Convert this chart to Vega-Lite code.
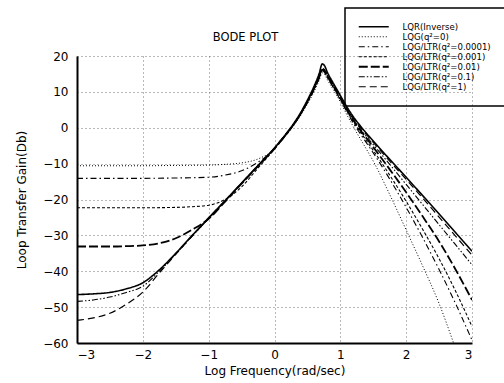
{
  "$schema": "https://vega.github.io/schema/vega-lite/v6.json",
  "width": 395,
  "height": 287,
  "autosize": "none",
  "padding": {"left": 77, "top": 56, "right": 32, "bottom": 40},
  "background": "white",
  "title": {"text": "BODE PLOT", "fontSize": 11.5, "fontWeight": "normal", "font": "DejaVu Sans", "color": "black", "anchor": "middle", "frame": "group", "baseline": "alphabetic", "offset": -45, "dx": -29},
  "datasets": {
    "curves": [
      {"s":"LQR(Inverse)","x":-3,"y":-46.5},{"s":"LQR(Inverse)","x":-2.75,"y":-46.3},{"s":"LQR(Inverse)","x":-2.5,"y":-45.9},{"s":"LQR(Inverse)","x":-2.25,"y":-44.9},{"s":"LQR(Inverse)","x":-2,"y":-43.2},{"s":"LQR(Inverse)","x":-1.75,"y":-39.6},{"s":"LQR(Inverse)","x":-1.5,"y":-35},{"s":"LQR(Inverse)","x":-1.25,"y":-30},{"s":"LQR(Inverse)","x":-1,"y":-25.1},{"s":"LQR(Inverse)","x":-0.75,"y":-20.3},{"s":"LQR(Inverse)","x":-0.5,"y":-15.4},{"s":"LQR(Inverse)","x":-0.25,"y":-10.5},{"s":"LQR(Inverse)","x":0,"y":-5.6},{"s":"LQR(Inverse)","x":0.1,"y":-3.4},{"s":"LQR(Inverse)","x":0.2,"y":-1.1},{"s":"LQR(Inverse)","x":0.3,"y":1.4},{"s":"LQR(Inverse)","x":0.4,"y":4.3},{"s":"LQR(Inverse)","x":0.5,"y":7.7},{"s":"LQR(Inverse)","x":0.6,"y":11.5},{"s":"LQR(Inverse)","x":0.68,"y":15.2},{"s":"LQR(Inverse)","x":0.725,"y":17.8},{"s":"LQR(Inverse)","x":0.76,"y":17.3},{"s":"LQR(Inverse)","x":0.8,"y":15.6},{"s":"LQR(Inverse)","x":0.9,"y":12.2},{"s":"LQR(Inverse)","x":1,"y":9},{"s":"LQR(Inverse)","x":1.1,"y":5.8},{"s":"LQR(Inverse)","x":1.2,"y":3},{"s":"LQR(Inverse)","x":1.3,"y":0.6},{"s":"LQR(Inverse)","x":1.4,"y":-1.6},{"s":"LQR(Inverse)","x":1.5,"y":-3.7},{"s":"LQR(Inverse)","x":1.75,"y":-8.8},{"s":"LQR(Inverse)","x":2,"y":-13.8},{"s":"LQR(Inverse)","x":2.25,"y":-18.9},{"s":"LQR(Inverse)","x":2.5,"y":-24},{"s":"LQR(Inverse)","x":2.75,"y":-29.2},{"s":"LQR(Inverse)","x":3,"y":-34.4},

      {"s":"LQG(q²=0)","x":-3,"y":-10.6},{"s":"LQG(q²=0)","x":-2.5,"y":-10.6},{"s":"LQG(q²=0)","x":-2,"y":-10.6},{"s":"LQG(q²=0)","x":-1.5,"y":-10.5},{"s":"LQG(q²=0)","x":-1,"y":-10.4},{"s":"LQG(q²=0)","x":-0.75,"y":-10.2},{"s":"LQG(q²=0)","x":-0.5,"y":-9.8},{"s":"LQG(q²=0)","x":-0.25,"y":-8.7},{"s":"LQG(q²=0)","x":0,"y":-5.9},{"s":"LQG(q²=0)","x":0.1,"y":-3.8},{"s":"LQG(q²=0)","x":0.2,"y":-1.6},{"s":"LQG(q²=0)","x":0.3,"y":0.8},{"s":"LQG(q²=0)","x":0.4,"y":3.5},{"s":"LQG(q²=0)","x":0.5,"y":6.6},{"s":"LQG(q²=0)","x":0.6,"y":10},{"s":"LQG(q²=0)","x":0.68,"y":13.3},{"s":"LQG(q²=0)","x":0.725,"y":15.3},{"s":"LQG(q²=0)","x":0.76,"y":14.9},{"s":"LQG(q²=0)","x":0.8,"y":13.5},{"s":"LQG(q²=0)","x":0.9,"y":10.4},{"s":"LQG(q²=0)","x":1,"y":7.2},{"s":"LQG(q²=0)","x":1.1,"y":3.6},{"s":"LQG(q²=0)","x":1.2,"y":0.2},{"s":"LQG(q²=0)","x":1.3,"y":-3},{"s":"LQG(q²=0)","x":1.4,"y":-6.1},{"s":"LQG(q²=0)","x":1.5,"y":-9.3},{"s":"LQG(q²=0)","x":1.75,"y":-18.6},{"s":"LQG(q²=0)","x":2,"y":-28.5},{"s":"LQG(q²=0)","x":2.25,"y":-38.5},{"s":"LQG(q²=0)","x":2.5,"y":-49},{"s":"LQG(q²=0)","x":2.72,"y":-60},

      {"s":"LQG/LTR(q²=0.0001)","x":-3,"y":-14.1},{"s":"LQG/LTR(q²=0.0001)","x":-2.5,"y":-14.1},{"s":"LQG/LTR(q²=0.0001)","x":-2,"y":-14.1},{"s":"LQG/LTR(q²=0.0001)","x":-1.5,"y":-14},{"s":"LQG/LTR(q²=0.0001)","x":-1,"y":-13.8},{"s":"LQG/LTR(q²=0.0001)","x":-0.75,"y":-13.2},{"s":"LQG/LTR(q²=0.0001)","x":-0.5,"y":-12},{"s":"LQG/LTR(q²=0.0001)","x":-0.25,"y":-9.6},{"s":"LQG/LTR(q²=0.0001)","x":0,"y":-5.9},{"s":"LQG/LTR(q²=0.0001)","x":0.1,"y":-3.7},{"s":"LQG/LTR(q²=0.0001)","x":0.2,"y":-1.5},{"s":"LQG/LTR(q²=0.0001)","x":0.3,"y":1},{"s":"LQG/LTR(q²=0.0001)","x":0.4,"y":3.8},{"s":"LQG/LTR(q²=0.0001)","x":0.5,"y":7},{"s":"LQG/LTR(q²=0.0001)","x":0.6,"y":10.5},{"s":"LQG/LTR(q²=0.0001)","x":0.68,"y":13.8},{"s":"LQG/LTR(q²=0.0001)","x":0.725,"y":15.8},{"s":"LQG/LTR(q²=0.0001)","x":0.76,"y":15.4},{"s":"LQG/LTR(q²=0.0001)","x":0.8,"y":14.1},{"s":"LQG/LTR(q²=0.0001)","x":0.9,"y":11},{"s":"LQG/LTR(q²=0.0001)","x":1,"y":7.8},{"s":"LQG/LTR(q²=0.0001)","x":1.1,"y":4.4},{"s":"LQG/LTR(q²=0.0001)","x":1.2,"y":1.2},{"s":"LQG/LTR(q²=0.0001)","x":1.3,"y":-1.6},{"s":"LQG/LTR(q²=0.0001)","x":1.4,"y":-4.3},{"s":"LQG/LTR(q²=0.0001)","x":1.5,"y":-7},{"s":"LQG/LTR(q²=0.0001)","x":1.75,"y":-14.3},{"s":"LQG/LTR(q²=0.0001)","x":2,"y":-22.2},{"s":"LQG/LTR(q²=0.0001)","x":2.25,"y":-30.6},{"s":"LQG/LTR(q²=0.0001)","x":2.5,"y":-39.5},{"s":"LQG/LTR(q²=0.0001)","x":2.75,"y":-49},{"s":"LQG/LTR(q²=0.0001)","x":3,"y":-59.2},

      {"s":"LQG/LTR(q²=0.001)","x":-3,"y":-22.3},{"s":"LQG/LTR(q²=0.001)","x":-2.5,"y":-22.3},{"s":"LQG/LTR(q²=0.001)","x":-2,"y":-22.3},{"s":"LQG/LTR(q²=0.001)","x":-1.5,"y":-22.2},{"s":"LQG/LTR(q²=0.001)","x":-1.25,"y":-22},{"s":"LQG/LTR(q²=0.001)","x":-1,"y":-21.6},{"s":"LQG/LTR(q²=0.001)","x":-0.75,"y":-20},{"s":"LQG/LTR(q²=0.001)","x":-0.5,"y":-16.5},{"s":"LQG/LTR(q²=0.001)","x":-0.25,"y":-11.2},{"s":"LQG/LTR(q²=0.001)","x":0,"y":-5.9},{"s":"LQG/LTR(q²=0.001)","x":0.1,"y":-3.6},{"s":"LQG/LTR(q²=0.001)","x":0.2,"y":-1.4},{"s":"LQG/LTR(q²=0.001)","x":0.3,"y":1.1},{"s":"LQG/LTR(q²=0.001)","x":0.4,"y":3.9},{"s":"LQG/LTR(q²=0.001)","x":0.5,"y":7.2},{"s":"LQG/LTR(q²=0.001)","x":0.6,"y":10.8},{"s":"LQG/LTR(q²=0.001)","x":0.68,"y":14.1},{"s":"LQG/LTR(q²=0.001)","x":0.725,"y":16},{"s":"LQG/LTR(q²=0.001)","x":0.76,"y":15.6},{"s":"LQG/LTR(q²=0.001)","x":0.8,"y":14.3},{"s":"LQG/LTR(q²=0.001)","x":0.9,"y":11.2},{"s":"LQG/LTR(q²=0.001)","x":1,"y":8},{"s":"LQG/LTR(q²=0.001)","x":1.1,"y":4.7},{"s":"LQG/LTR(q²=0.001)","x":1.2,"y":1.6},{"s":"LQG/LTR(q²=0.001)","x":1.3,"y":-1.1},{"s":"LQG/LTR(q²=0.001)","x":1.4,"y":-3.7},{"s":"LQG/LTR(q²=0.001)","x":1.5,"y":-6.3},{"s":"LQG/LTR(q²=0.001)","x":1.75,"y":-13.2},{"s":"LQG/LTR(q²=0.001)","x":2,"y":-20.5},{"s":"LQG/LTR(q²=0.001)","x":2.25,"y":-28.3},{"s":"LQG/LTR(q²=0.001)","x":2.5,"y":-36.5},{"s":"LQG/LTR(q²=0.001)","x":2.75,"y":-45.5},{"s":"LQG/LTR(q²=0.001)","x":3,"y":-55.4},

      {"s":"LQG/LTR(q²=0.01)","x":-3,"y":-33.1},{"s":"LQG/LTR(q²=0.01)","x":-2.75,"y":-33.1},{"s":"LQG/LTR(q²=0.01)","x":-2.5,"y":-33.1},{"s":"LQG/LTR(q²=0.01)","x":-2.25,"y":-33},{"s":"LQG/LTR(q²=0.01)","x":-2,"y":-32.8},{"s":"LQG/LTR(q²=0.01)","x":-1.75,"y":-32.2},{"s":"LQG/LTR(q²=0.01)","x":-1.5,"y":-30.8},{"s":"LQG/LTR(q²=0.01)","x":-1.25,"y":-28.4},{"s":"LQG/LTR(q²=0.01)","x":-1,"y":-25.4},{"s":"LQG/LTR(q²=0.01)","x":-0.75,"y":-20.6},{"s":"LQG/LTR(q²=0.01)","x":-0.5,"y":-15.6},{"s":"LQG/LTR(q²=0.01)","x":-0.25,"y":-10.7},{"s":"LQG/LTR(q²=0.01)","x":0,"y":-5.8},{"s":"LQG/LTR(q²=0.01)","x":0.1,"y":-3.6},{"s":"LQG/LTR(q²=0.01)","x":0.2,"y":-1.3},{"s":"LQG/LTR(q²=0.01)","x":0.3,"y":1.2},{"s":"LQG/LTR(q²=0.01)","x":0.4,"y":4},{"s":"LQG/LTR(q²=0.01)","x":0.5,"y":7.3},{"s":"LQG/LTR(q²=0.01)","x":0.6,"y":10.9},{"s":"LQG/LTR(q²=0.01)","x":0.68,"y":14.2},{"s":"LQG/LTR(q²=0.01)","x":0.725,"y":16.2},{"s":"LQG/LTR(q²=0.01)","x":0.76,"y":15.8},{"s":"LQG/LTR(q²=0.01)","x":0.8,"y":14.5},{"s":"LQG/LTR(q²=0.01)","x":0.9,"y":11.4},{"s":"LQG/LTR(q²=0.01)","x":1,"y":8.2},{"s":"LQG/LTR(q²=0.01)","x":1.1,"y":5},{"s":"LQG/LTR(q²=0.01)","x":1.2,"y":2},{"s":"LQG/LTR(q²=0.01)","x":1.3,"y":-0.6},{"s":"LQG/LTR(q²=0.01)","x":1.4,"y":-3},{"s":"LQG/LTR(q²=0.01)","x":1.5,"y":-5.4},{"s":"LQG/LTR(q²=0.01)","x":1.75,"y":-11.6},{"s":"LQG/LTR(q²=0.01)","x":2,"y":-18},{"s":"LQG/LTR(q²=0.01)","x":2.25,"y":-24.7},{"s":"LQG/LTR(q²=0.01)","x":2.5,"y":-31.7},{"s":"LQG/LTR(q²=0.01)","x":2.75,"y":-39.5},{"s":"LQG/LTR(q²=0.01)","x":3,"y":-48},

      {"s":"LQG/LTR(q²=0.1)","x":-3,"y":-48.4},{"s":"LQG/LTR(q²=0.1)","x":-2.75,"y":-48},{"s":"LQG/LTR(q²=0.1)","x":-2.5,"y":-47.2},{"s":"LQG/LTR(q²=0.1)","x":-2.25,"y":-45.9},{"s":"LQG/LTR(q²=0.1)","x":-2,"y":-44.2},{"s":"LQG/LTR(q²=0.1)","x":-1.75,"y":-40},{"s":"LQG/LTR(q²=0.1)","x":-1.5,"y":-35.2},{"s":"LQG/LTR(q²=0.1)","x":-1.25,"y":-30.2},{"s":"LQG/LTR(q²=0.1)","x":-1,"y":-25.3},{"s":"LQG/LTR(q²=0.1)","x":-0.75,"y":-20.4},{"s":"LQG/LTR(q²=0.1)","x":-0.5,"y":-15.5},{"s":"LQG/LTR(q²=0.1)","x":-0.25,"y":-10.6},{"s":"LQG/LTR(q²=0.1)","x":0,"y":-5.7},{"s":"LQG/LTR(q²=0.1)","x":0.1,"y":-3.5},{"s":"LQG/LTR(q²=0.1)","x":0.2,"y":-1.2},{"s":"LQG/LTR(q²=0.1)","x":0.3,"y":1.2},{"s":"LQG/LTR(q²=0.1)","x":0.4,"y":4},{"s":"LQG/LTR(q²=0.1)","x":0.5,"y":7.3},{"s":"LQG/LTR(q²=0.1)","x":0.6,"y":10.9},{"s":"LQG/LTR(q²=0.1)","x":0.68,"y":14.3},{"s":"LQG/LTR(q²=0.1)","x":0.725,"y":16.4},{"s":"LQG/LTR(q²=0.1)","x":0.76,"y":16},{"s":"LQG/LTR(q²=0.1)","x":0.8,"y":14.7},{"s":"LQG/LTR(q²=0.1)","x":0.9,"y":11.6},{"s":"LQG/LTR(q²=0.1)","x":1,"y":8.4},{"s":"LQG/LTR(q²=0.1)","x":1.1,"y":5.2},{"s":"LQG/LTR(q²=0.1)","x":1.2,"y":2.3},{"s":"LQG/LTR(q²=0.1)","x":1.3,"y":-0.2},{"s":"LQG/LTR(q²=0.1)","x":1.4,"y":-2.5},{"s":"LQG/LTR(q²=0.1)","x":1.5,"y":-4.7},{"s":"LQG/LTR(q²=0.1)","x":1.75,"y":-10.2},{"s":"LQG/LTR(q²=0.1)","x":2,"y":-15.8},{"s":"LQG/LTR(q²=0.1)","x":2.25,"y":-21.4},{"s":"LQG/LTR(q²=0.1)","x":2.5,"y":-27},{"s":"LQG/LTR(q²=0.1)","x":2.75,"y":-32.6},{"s":"LQG/LTR(q²=0.1)","x":3,"y":-38.2},

      {"s":"LQG/LTR(q²=1)","x":-3,"y":-53.7},{"s":"LQG/LTR(q²=1)","x":-2.75,"y":-53},{"s":"LQG/LTR(q²=1)","x":-2.5,"y":-51.7},{"s":"LQG/LTR(q²=1)","x":-2.25,"y":-49.2},{"s":"LQG/LTR(q²=1)","x":-2,"y":-45.8},{"s":"LQG/LTR(q²=1)","x":-1.75,"y":-40.5},{"s":"LQG/LTR(q²=1)","x":-1.5,"y":-35.3},{"s":"LQG/LTR(q²=1)","x":-1.25,"y":-30.2},{"s":"LQG/LTR(q²=1)","x":-1,"y":-25.3},{"s":"LQG/LTR(q²=1)","x":-0.75,"y":-20.4},{"s":"LQG/LTR(q²=1)","x":-0.5,"y":-15.5},{"s":"LQG/LTR(q²=1)","x":-0.25,"y":-10.6},{"s":"LQG/LTR(q²=1)","x":0,"y":-5.7},{"s":"LQG/LTR(q²=1)","x":0.1,"y":-3.5},{"s":"LQG/LTR(q²=1)","x":0.2,"y":-1.2},{"s":"LQG/LTR(q²=1)","x":0.3,"y":1.2},{"s":"LQG/LTR(q²=1)","x":0.4,"y":4},{"s":"LQG/LTR(q²=1)","x":0.5,"y":7.3},{"s":"LQG/LTR(q²=1)","x":0.6,"y":11},{"s":"LQG/LTR(q²=1)","x":0.68,"y":14.4},{"s":"LQG/LTR(q²=1)","x":0.725,"y":16.6},{"s":"LQG/LTR(q²=1)","x":0.76,"y":16.2},{"s":"LQG/LTR(q²=1)","x":0.8,"y":14.9},{"s":"LQG/LTR(q²=1)","x":0.9,"y":11.8},{"s":"LQG/LTR(q²=1)","x":1,"y":8.6},{"s":"LQG/LTR(q²=1)","x":1.1,"y":5.4},{"s":"LQG/LTR(q²=1)","x":1.2,"y":2.6},{"s":"LQG/LTR(q²=1)","x":1.3,"y":0.2},{"s":"LQG/LTR(q²=1)","x":1.4,"y":-2},{"s":"LQG/LTR(q²=1)","x":1.5,"y":-4.1},{"s":"LQG/LTR(q²=1)","x":1.75,"y":-9.3},{"s":"LQG/LTR(q²=1)","x":2,"y":-14.4},{"s":"LQG/LTR(q²=1)","x":2.25,"y":-19.6},{"s":"LQG/LTR(q²=1)","x":2.5,"y":-24.9},{"s":"LQG/LTR(q²=1)","x":2.75,"y":-30.2},{"s":"LQG/LTR(q²=1)","x":3,"y":-35.5}
    ]
  },
  "data": {"name": "curves"},
  "mark": {"type": "line", "clip": true, "interpolate": "monotone"},
  "encoding": {
    "x": {
      "field": "x", "type": "quantitative",
      "scale": {"domain": [-3, 3], "nice": false, "zero": false},
      "axis": {"values": [-3, -2, -1, 0, 1, 2, 3], "title": "Log Frequency(rad/sec)", "ticks": false, "labelPadding": 6, "titlePadding": 5}
    },
    "y": {
      "field": "y", "type": "quantitative",
      "scale": {"domain": [-60, 20], "nice": false, "zero": false},
      "axis": {"values": [-60, -50, -40, -30, -20, -10, 0, 10, 20], "title": "Loop Transfer Gain(Db)", "ticks": false, "labelPadding": 9, "titlePadding": 14}
    },
    "color": {
      "field": "s", "type": "nominal",
      "sort": ["LQR(Inverse)", "LQG(q²=0)", "LQG/LTR(q²=0.0001)", "LQG/LTR(q²=0.001)", "LQG/LTR(q²=0.01)", "LQG/LTR(q²=0.1)", "LQG/LTR(q²=1)"],
      "scale": {"domain": ["LQR(Inverse)", "LQG(q²=0)", "LQG/LTR(q²=0.0001)", "LQG/LTR(q²=0.001)", "LQG/LTR(q²=0.01)", "LQG/LTR(q²=0.1)", "LQG/LTR(q²=1)"], "range": ["#000000", "#000000", "#000000", "#000000", "#000000", "#000000", "#000000"]},
      "legend": {
        "title": null, "orient": "none", "legendX": 268, "legendY": -48,
        "strokeColor": "black", "padding": 14, "rowPadding": -2.6,
        "symbolType": "M-7.5,0H7.5", "symbolSize": 16, "symbolOffset": 10, "symbolStrokeWidth": 1.3,
        "labelOffset": 24, "labelFontSize": 9.5, "labelFont": "DejaVu Sans Condensed", "labelColor": "black", "labelLimit": 200
      }
    },
    "strokeDash": {
      "field": "s", "type": "nominal",
      "sort": ["LQR(Inverse)", "LQG(q²=0)", "LQG/LTR(q²=0.0001)", "LQG/LTR(q²=0.001)", "LQG/LTR(q²=0.01)", "LQG/LTR(q²=0.1)", "LQG/LTR(q²=1)"],
      "scale": {"domain": ["LQR(Inverse)", "LQG(q²=0)", "LQG/LTR(q²=0.0001)", "LQG/LTR(q²=0.001)", "LQG/LTR(q²=0.01)", "LQG/LTR(q²=0.1)", "LQG/LTR(q²=1)"], "range": [[1, 0], [1, 2], [6, 3, 1.5, 3], [3, 2], [9, 3], [6, 2, 1.5, 2, 1.5, 2], [7, 4]]},
      "legend": {
        "title": null, "orient": "none", "legendX": 268, "legendY": -48,
        "strokeColor": "black", "padding": 14, "rowPadding": -2.6,
        "symbolType": "M-7.5,0H7.5", "symbolSize": 16, "symbolOffset": 10, "symbolStrokeWidth": 1.3,
        "labelOffset": 24, "labelFontSize": 9.5, "labelFont": "DejaVu Sans Condensed", "labelColor": "black", "labelLimit": 200
      }
    },
    "strokeWidth": {
      "field": "s", "type": "nominal",
      "sort": ["LQR(Inverse)", "LQG(q²=0)", "LQG/LTR(q²=0.0001)", "LQG/LTR(q²=0.001)", "LQG/LTR(q²=0.01)", "LQG/LTR(q²=0.1)", "LQG/LTR(q²=1)"],
      "scale": {"type": "ordinal", "domain": ["LQR(Inverse)", "LQG(q²=0)", "LQG/LTR(q²=0.0001)", "LQG/LTR(q²=0.001)", "LQG/LTR(q²=0.01)", "LQG/LTR(q²=0.1)", "LQG/LTR(q²=1)"], "range": [1.6, 1, 1.1, 1.1, 1.8, 1.1, 1.2]},
      "legend": null
    }
  },
  "config": {
    "font": "DejaVu Sans",
    "view": {"stroke": null},
    "axis": {
      "domainColor": "black", "domainWidth": 2,
      "grid": true, "gridColor": "#666666", "gridDash": [1, 3], "gridWidth": 1, "gridOpacity": 0.9,
      "labelColor": "black", "labelFontSize": 12, "labelFont": "DejaVu Sans",
      "titleColor": "black", "titleFontSize": 12, "titleFontWeight": "normal", "titleFont": "DejaVu Sans"
    },
    "legend": {"strokeWidth": 1.5}
  }
}
